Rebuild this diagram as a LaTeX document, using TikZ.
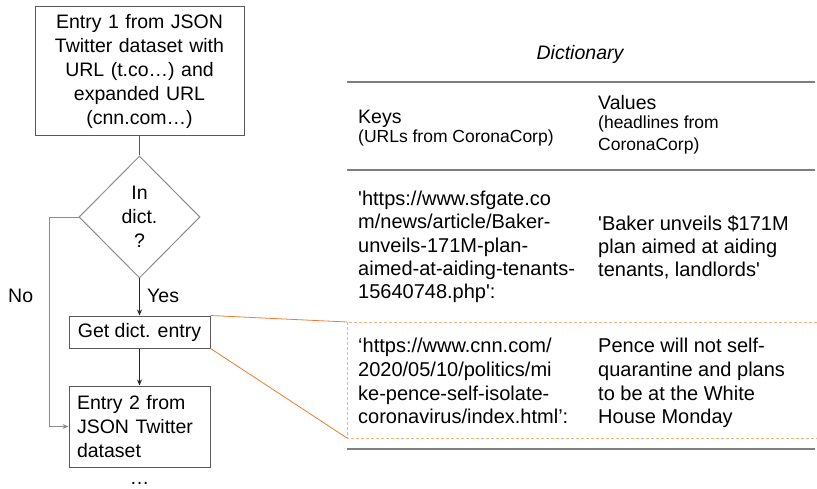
\documentclass[tikz,border=0pt]{standalone}
\usepackage{fontspec}
\setmainfont{Liberation Sans}
\usetikzlibrary{shapes.geometric,arrows.meta}
\definecolor{boxgray}{HTML}{595959}
\definecolor{lightgray2}{HTML}{8C8C8C}
\definecolor{rulegray}{HTML}{7F7F7F}
\definecolor{orangeA}{HTML}{ED7D31}
\definecolor{orangeB}{HTML}{F4B183}
\tikzset{
  mainfont/.style={font=\fontsize{19.5}{24}\selectfont},
  smallfont/.style={font=\fontsize{17.5}{22}\selectfont},
  flowbox/.style={draw=boxgray, line width=1pt, mainfont, inner sep=0pt},
  decision/.style={draw=lightgray2, line width=1pt, shape=diamond, inner sep=0pt, minimum width=121pt, minimum height=122pt, mainfont, align=center},
  conn/.style={draw=black!85, line width=0.9pt, -{Stealth[length=6pt,width=5pt]}},
  plainconn/.style={draw=boxgray, line width=0.9pt},
  loopconn/.style={draw=lightgray2, line width=0.9pt, -{Stealth[length=6pt,width=5pt]}, draw},
  tabtext/.style={anchor=north west, inner sep=0pt, align=left},
  rulestyle/.style={draw=rulegray, line width=1.4pt},
  zoomline/.style={draw=orangeA, line width=0.8pt},
  dashbox/.style={draw=orangeB, line width=1pt, dash pattern=on 3pt off 2pt},
}
\begin{document}
\begin{tikzpicture}[x=1pt, y=-1pt]
\useasboundingbox (0,0) rectangle (817,489);

% flowchart
\node[flowbox, minimum width=209pt, minimum height=129pt, text width=200pt, align=center] (entryA) at (139.5,71.5)
  {Entry 1 from JSON\\Twitter dataset with\\URL (t.co…) and\\expanded URL\\(cnn.com…)};
\node[decision] (dict) at (139.5,217) {In\\dict.\\?};
\node[flowbox, minimum width=141pt, minimum height=32pt] (get) at (139.5,332) {Get dict. entry};
\node[flowbox, minimum width=141pt, minimum height=81pt, text width=125pt, align=left, inner xsep=8pt] (entryB) at (139.5,426.5)
  {Entry 2 from\\JSON Twitter\\dataset};
\node[mainfont, anchor=base] (dots) at (139.5,484) {…};

\draw[plainconn] (entryA.south) -- (dict.north);
\draw[conn] (dict.south) -- (get.north);
\draw[conn] (get.south) -- (entryB.north);
\draw[loopconn] (dict.west) -- ++(-29,0) |- (entryB.west);

\node[mainfont, tabtext] (yes) at (147,289) {Yes};
\node[mainfont, tabtext] (no) at (8,289) {No};

% table
\node[font=\fontsize{19.5}{24}\selectfont\itshape, anchor=north, inner sep=0pt] (title) at (580,45) {Dictionary};
\draw[rulestyle] (347,82) -- (815,82);
\draw[rulestyle] (347,170) -- (815,170);
\draw[rulestyle] (347,449) -- (815,449);

\node[mainfont, tabtext] (keyhead) at (358,110) {Keys};
\node[smallfont, tabtext] (keysub) at (358,130) {(URLs from CoronaCorp)};
\node[mainfont, tabtext] (valhead) at (598,95) {Values};
\node[smallfont, tabtext] (valsub) at (598,116) {(headlines from\\CoronaCorp)};

\node[tabtext, font=\fontsize{20}{23.3}\selectfont] (keyA) at (358,191)
  {\textquotesingle https://www.sfgate.co\\m/news/article/Baker-\\unveils-171M-plan-\\aimed-at-aiding-tenants-\\15640748.php\textquotesingle :};
\node[tabtext, font=\fontsize{20}{23.3}\selectfont] (valA) at (598,215)
  {\textquotesingle Baker unveils \$171M\\plan aimed at aiding\\tenants, landlords\textquotesingle};

\node[tabtext, font=\fontsize{20}{23.7}\selectfont] (keyB) at (358,338)
  {‘https://www.cnn.com/\\2020/05/10/politics/mi\\ke-pence-self-isolate-\\coronavirus/index.html’:};
\node[tabtext, font=\fontsize{20}{23.7}\selectfont] (valB) at (598,338)
  {Pence will not self-\\quarantine and plans\\to be at the White\\House Monday};

% highlight
\coordinate (hlA) at (347,322);
\coordinate (hlB) at (347,438);
\draw[dashbox] (817,322) -- (hlA) -- (hlB) -- (817,438);
\draw[zoomline] (get.north east) -- (hlA);
\draw[zoomline] (get.south east) -- (hlB);
\end{tikzpicture}
\end{document}
